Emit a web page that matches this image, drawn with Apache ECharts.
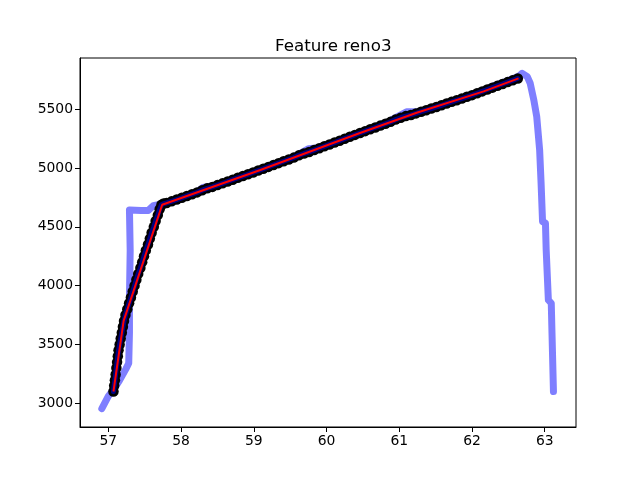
<!DOCTYPE html>
<html>
<head>
<meta charset="utf-8">
<script src="https://cdn.jsdelivr.net/npm/echarts@6/dist/echarts.min.js"></script>
<style>
  body { margin: 0; background: #fff; }
  #grafico { width: 640px; height: 480px; }
</style>
</head>
<body>
<div id="grafico"></div>
<script>
// Datos
const titulo = "Feature reno3";
const ticksX = [57, 58, 59, 60, 61, 62, 63];
const ticksY = [3000, 3500, 4000, 4500, 5000, 5500];

// Serie cruda (línea azul clara)
const crudoX = [56.91, 57.00, 57.07, 57.15, 57.24, 57.28, 57.29, 57.29, 57.30, 57.29,
    57.45, 57.55, 57.62, 57.70, 57.80, 58.00, 58.20, 58.30, 58.40, 58.55,
    58.80, 59.10, 59.40, 59.60, 59.75, 59.90, 60.20, 60.50, 60.80, 60.95,
    61.10, 61.25, 61.50, 61.80, 62.10, 62.30, 62.50, 62.64, 62.69, 62.76,
    62.80, 62.85, 62.89, 62.93, 62.95, 62.97, 63.01, 63.02, 63.04, 63.05,
    63.09, 63.10, 63.12];
const crudoY = [2955, 3060, 3115, 3190, 3290, 3340, 3600, 3900, 4300, 4644,
    4640, 4640, 4680, 4690, 4705, 4748, 4790, 4835, 4845, 4868,
    4921, 4988, 5056, 5110, 5165, 5172, 5240, 5307, 5375, 5430,
    5478, 5478, 5520, 5578, 5648, 5700, 5745, 5780, 5806, 5777,
    5721, 5579, 5437, 5154, 4871, 4544, 4531, 4304, 4020, 3878,
    3850, 3595, 3099];

// Muestras (puntos negros y línea suavizada)
const muestraX = [57.07, 57.08, 57.09, 57.10, 57.11, 57.12, 57.13, 57.14, 57.155, 57.17,
    57.185, 57.20, 57.215, 57.235, 57.26, 57.285, 57.31, 57.335, 57.36, 57.385,
    57.41, 57.44, 57.465, 57.49, 57.515, 57.545, 57.57, 57.595, 57.625, 57.65,
    57.68, 57.705, 57.73, 57.76,
    57.80, 57.87, 57.94, 58.01, 58.08, 58.15, 58.22, 58.29, 58.36, 58.43,
    58.50, 58.57, 58.64, 58.71, 58.78, 58.85, 58.92, 58.99, 59.06, 59.13,
    59.20, 59.27, 59.34, 59.41, 59.48, 59.55, 59.62, 59.69, 59.76, 59.83,
    59.90, 59.97, 60.04, 60.11, 60.18, 60.25, 60.32, 60.39, 60.46, 60.53,
    60.60, 60.67, 60.74, 60.81, 60.88, 60.95, 61.02, 61.09, 61.16, 61.23,
    61.30, 61.37, 61.44, 61.51, 61.58, 61.65, 61.72, 61.79, 61.86, 61.93,
    62.00, 62.07, 62.14, 62.21, 62.28, 62.35, 62.42, 62.49, 62.56, 62.63];
const muestraY = [3100, 3150, 3195, 3245, 3300, 3350, 3400, 3450, 3500, 3550,
    3600, 3650, 3700, 3750, 3800, 3850, 3900, 3950, 4000, 4050,
    4100, 4150, 4200, 4250, 4300, 4350, 4400, 4450, 4500, 4550,
    4600, 4650, 4688, 4698,
    4703, 4717, 4732, 4747, 4763, 4778, 4793, 4812, 4828, 4840,
    4855, 4870, 4886, 4901, 4917, 4932, 4947, 4963, 4979, 4994,
    5010, 5026, 5042, 5058, 5073, 5089, 5108, 5124, 5137, 5153,
    5169, 5185, 5201, 5217, 5233, 5250, 5266, 5282, 5298, 5314,
    5330, 5345, 5361, 5377, 5393, 5412, 5428, 5442, 5452, 5465,
    5479, 5492, 5506, 5520, 5534, 5549, 5563, 5577, 5591, 5606,
    5620, 5636, 5652, 5668, 5684, 5699, 5715, 5731, 5746, 5762];

// Ajuste por tramos (línea roja)
const ajusteX = [57.07, 57.21, 57.74, 59.09, 60.46, 61.24, 62.16, 62.64];
const ajusteY = [3100, 3700, 4688, 4984, 5298, 5470, 5652, 5763];

function pares(xs, ys) {
    return xs.map((x, i) => [x, ys[i]]);
}

let grafico = echarts.init(document.getElementById("grafico"));

const fuente = "DejaVu Sans";
let ejeComun = {
    axisLine: { show: true, lineStyle: { color: "#000", width: 1 } },
    splitLine: { show: false },
    axisTick: { show: true, length: 5, lineStyle: { color: "#000", width: 1 } },
    axisLabel: { color: "#000", fontSize: 13.9, fontFamily: fuente, margin: 7,
        formatter: v => String(v) }
};

grafico.setOption({
    animation: false,
    backgroundColor: "#fff",
    title: {
        text: titulo,
        left: 270,
        top: 33,
        textStyle: { fontSize: 16.7, fontWeight: "normal", color: "#000", fontFamily: fuente }
    },
    grid: {
        left: 80, right: 64, top: 58, bottom: 53,
        show: true, borderColor: "#000", borderWidth: 1, backgroundColor: "#fff"
    },
    xAxis: Object.assign({}, ejeComun, {
        type: "value", min: 56.61, max: 63.43,
        axisTick: Object.assign({}, ejeComun.axisTick, { customValues: ticksX }),
        axisLabel: Object.assign({}, ejeComun.axisLabel, { customValues: ticksX })
    }),
    yAxis: Object.assign({}, ejeComun, {
        type: "value", min: 2798, max: 5936,
        axisTick: Object.assign({}, ejeComun.axisTick, { customValues: ticksY }),
        axisLabel: Object.assign({}, ejeComun.axisLabel, { customValues: ticksY })
    }),
    series: [
        {
            name: "crudo", type: "line", data: pares(crudoX, crudoY),
            showSymbol: false, symbol: "none", z: 1, silent: true,
            lineStyle: { color: "#0000ff", opacity: 0.5, width: 7, cap: "round", join: "round" }
        },
        {
            name: "muestras", type: "scatter", data: pares(muestraX, muestraY),
            symbolSize: 10.5, z: 2, silent: true,
            itemStyle: { color: "#000", opacity: 1 }
        },
        {
            name: "suavizado", type: "line", data: pares(muestraX, muestraY),
            showSymbol: false, symbol: "none", z: 3, silent: true,
            lineStyle: { color: "#0000ff", opacity: 0.5, width: 5, cap: "round", join: "round" }
        },
        {
            name: "ajuste", type: "line", data: pares(ajusteX, ajusteY),
            showSymbol: false, symbol: "none", z: 4, silent: true,
            lineStyle: { color: "#ff0000", width: 2 }
        }
    ]
});
</script>
</body>
</html>
